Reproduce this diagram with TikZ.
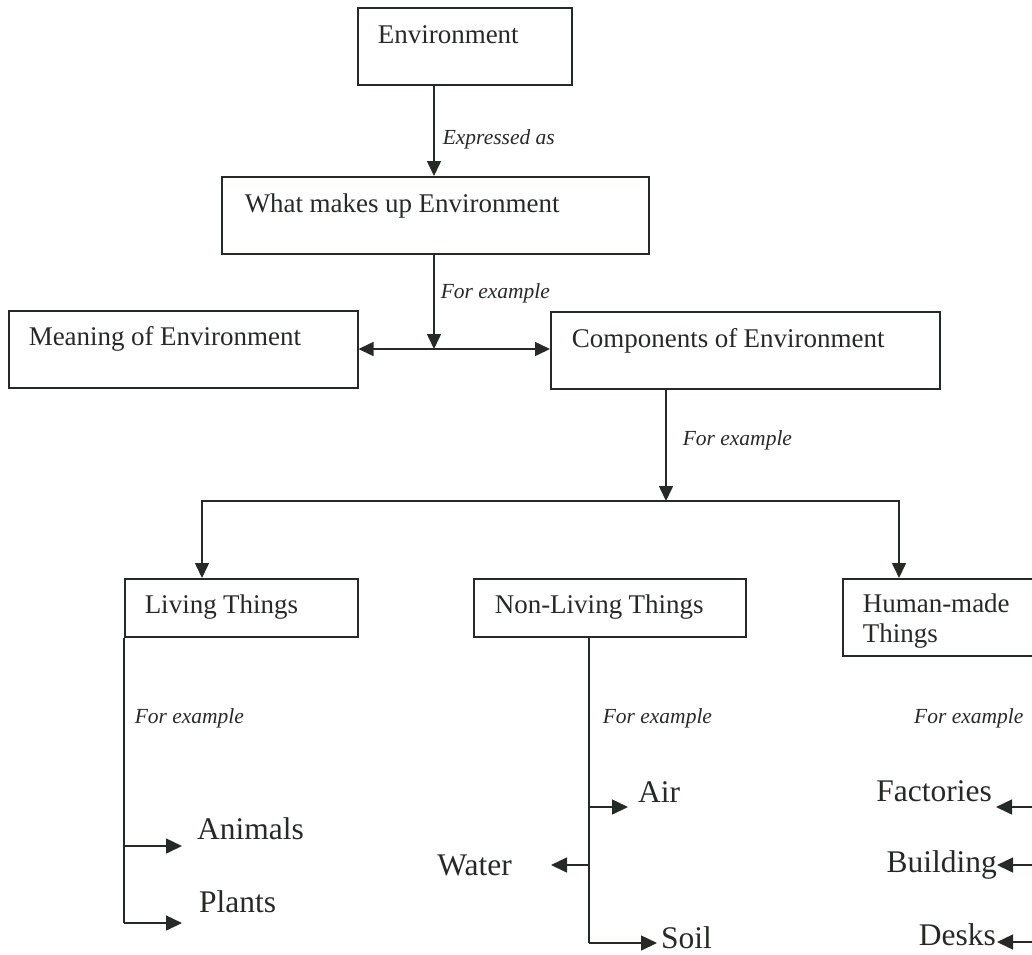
\documentclass[tikz,border=0pt]{standalone}
\usepackage{fontspec}
\setmainfont{Liberation Serif}
\usetikzlibrary{arrows.meta}

\definecolor{ink}{RGB}{38,42,38}

\begin{document}
\begin{tikzpicture}[x=1pt, y=-1pt,
    box/.style={draw=ink, line width=1.5pt, anchor=north west, inner ysep=0pt,
                align=left, text=ink, font=\fontsize{27}{30}\selectfont,
                execute at begin node={\spaceskip=0.24em\relax}},
    leaf/.style={inner sep=0pt, text=ink, font=\fontsize{31.5}{34}\selectfont},
    lbl/.style={inner sep=0pt, anchor=base west, text=ink,
                font=\fontsize{21.5}{24}\selectfont\itshape},
    conn/.style={draw=ink, line width=1.5pt},
    arr/.style={conn, -{Triangle[length=15pt, width=14pt]}},
    larr/.style={conn, -{Triangle[length=16pt, width=15pt]}},
    darr/.style={conn, {Triangle[length=15pt, width=14pt]}-{Triangle[length=15pt, width=14pt]}},
]
\useasboundingbox (0,0) rectangle (1032,954);
\clip (0,0) rectangle (1032,954);

%% -- top chain --------------------------------------------------------
\node[box, inner xsep=20pt, text width=174pt, text height=36pt, text depth=41pt]
      (env) at (357,7) {Environment};
\node[box, inner xsep=23pt, text width=381pt, text height=36pt, text depth=41pt]
      (makes) at (221,176) {What makes up Environment};
\node[box, inner xsep=20pt, text width=309pt, text height=35pt, text depth=42pt]
      (meaning) at (8,310) {Meaning of Environment};
\node[box, inner xsep=21pt, text width=347pt, text height=36pt, text depth=41pt]
      (comp) at (550,311) {Components of Environment};

\coordinate (trunk) at (434,0);
\coordinate (join)  at (434,349);

\draw[arr] (env.south -| trunk)
    -- node[lbl, pos=0.65, xshift=8pt] (expr) {Expressed as} (makes.north -| trunk);
\draw[arr] (makes.south -| trunk)
    -- node[lbl, pos=0.47, xshift=6pt] (ex1) {For example} (join);
\draw[darr] (meaning.east |- join) -- (comp.west |- join);

%% -- three groups -----------------------------------------------------
\node[box, inner xsep=20pt, text width=193pt, text height=35pt, text depth=23pt]
      (living) at (124,578) {Living Things};
\node[box, inner xsep=21pt, text width=230pt, text height=35pt, text depth=23pt]
      (nonliving) at (473,578) {Non-Living Things};
\node[box, inner xsep=20pt, text width=230pt, text height=34pt, text depth=43pt]
      (human) at (842,578) {Human-made\\Things};

\coordinate (split) at (666,501);
\coordinate (lt)    at (202,501);
\coordinate (rt)    at (899,501);

\draw[arr] (comp.south -| split)
    -- node[lbl, pos=0.5, xshift=16pt] (ex2) {For example} (split);
\draw[arr] (split) -| (lt |- living.north);
\draw[arr] (split) -| (rt |- human.north);

%% -- living things ----------------------------------------------------
\coordinate (animtip)  at (182,846);
\coordinate (planttip) at (182,923);
\node[leaf, anchor=base west] (animals) at (197,839) {Animals};
\node[leaf, anchor=base west] (plants)  at (199,912) {Plants};

\draw[conn] (living.south west)
    -- node[lbl, pos=0.3, xshift=10pt] (ex3) {For example} (living.south west |- planttip);
\draw[larr] (animtip -| living.south west) -- (animtip);
\draw[larr] (planttip -| living.south west) -- (planttip);

%% -- non-living things ------------------------------------------------
\coordinate (nspine)   at (589,0);
\coordinate (airtip)   at (628,807);
\coordinate (watertip) at (551,865);
\coordinate (soiltip)  at (657,943);
\node[leaf, anchor=base west] (air)   at (638,802) {Air};
\node[leaf, anchor=base east] (water) at (512,875) {Water};
\node[leaf, anchor=base west] (soil)  at (661,948) {Soil};

\draw[conn] (nonliving.south -| nspine)
    -- node[lbl, pos=0.283, xshift=13pt] (ex4) {For example} (nspine |- soiltip);
\draw[larr] (nspine |- airtip) -- (airtip);
\draw[larr] (nspine |- watertip) -- (watertip);
\draw[larr] (nspine |- soiltip) -- (soiltip);

%% -- human-made things ------------------------------------------------
\coordinate (rspine)    at (1045,0);
\coordinate (facttip)   at (996,807);
\coordinate (buildtip)  at (997,865);
\coordinate (desktip)   at (997,942);
\node[leaf, anchor=base east] (factories) at (992,801) {Factories};
\node[leaf, anchor=base east] (building)  at (997,872) {Building};
\node[leaf, anchor=base east] (desks)     at (996,945) {Desks};
\node[lbl] (ex5) at (914,723) {For example};

\draw[conn] (human.south -| rspine) -- (rspine |- desktip);
\draw[larr] (rspine |- facttip) -- (facttip);
\draw[larr] (rspine |- buildtip) -- (buildtip);
\draw[larr] (rspine |- desktip) -- (desktip);

\end{tikzpicture}
\end{document}
